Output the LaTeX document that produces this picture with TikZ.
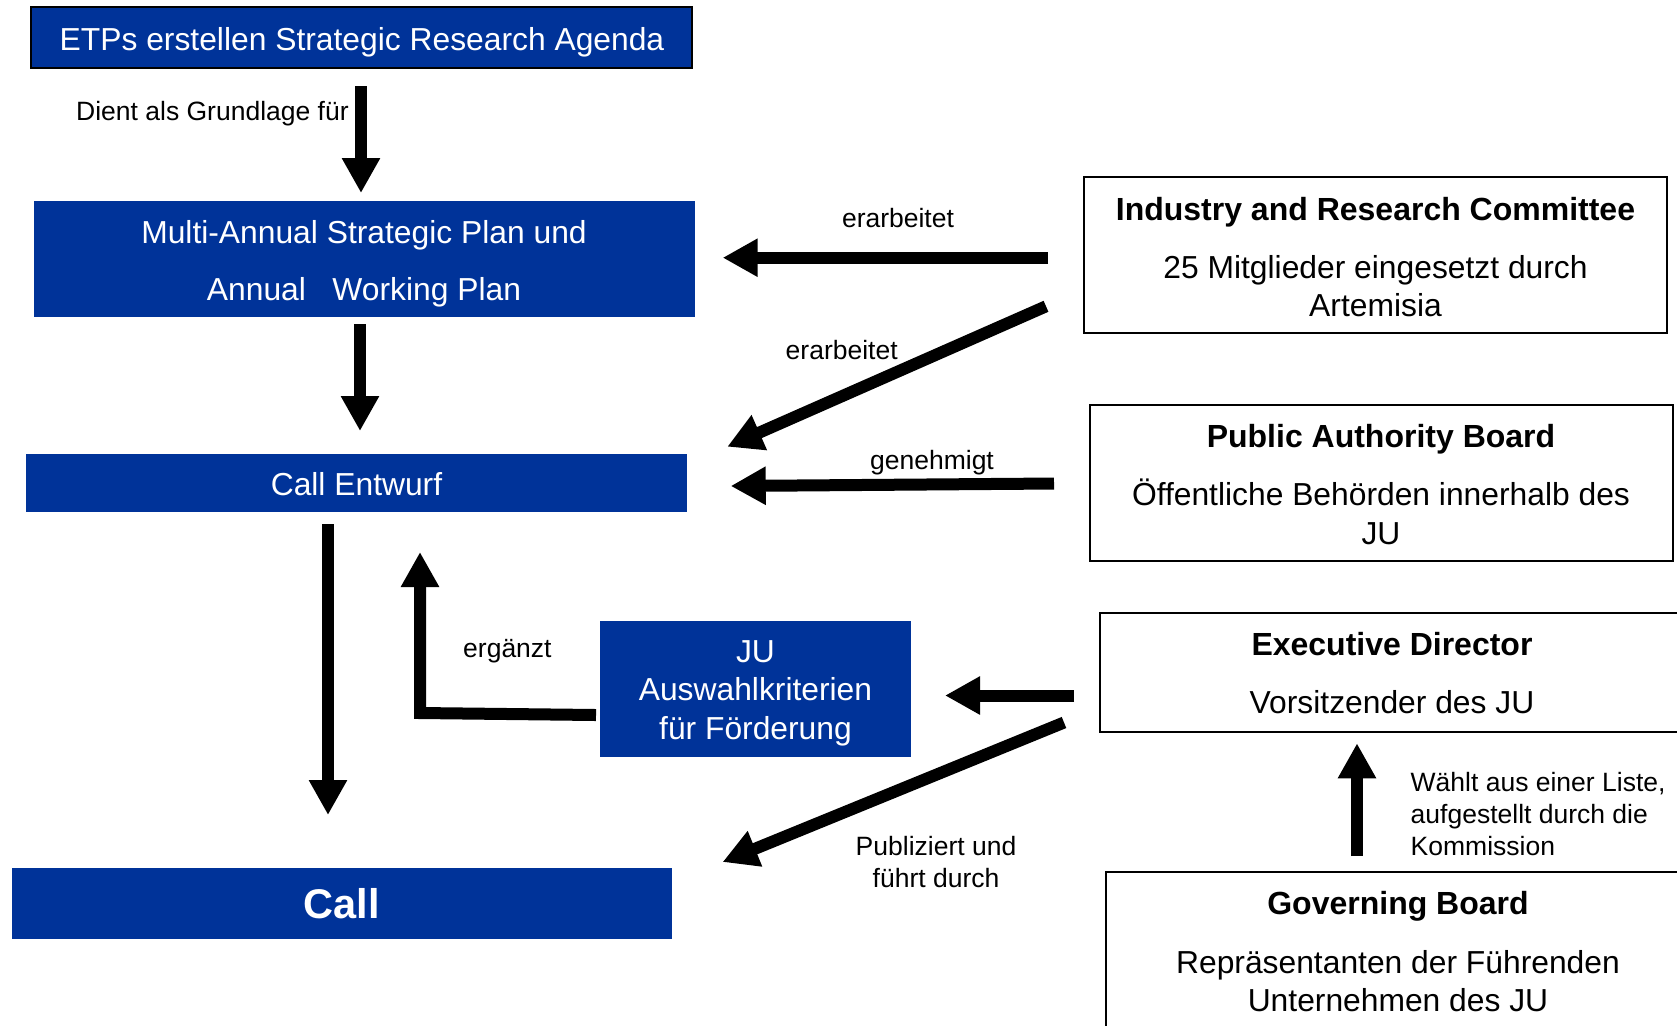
\documentclass[tikz,border=0pt]{standalone}
\usepackage{fontspec}
\setmainfont{Liberation Sans}
\usetikzlibrary{arrows.meta,fit}
\definecolor{juBlue}{RGB}{0,51,153}

\begin{document}
\begin{tikzpicture}[x=0.5pt,y=-0.5pt,
  bluebox/.style={fill=juBlue,inner sep=0pt},
  whitebox/.style={draw=black,line width=0.7pt,fill=white,inner sep=0pt},
  bigtext/.style={inner sep=0pt,anchor=base,font=\fontsize{15.9}{19}\selectfont},
  whitetext/.style={bigtext,text=white},
  titletext/.style={bigtext,font=\fontsize{16}{19}\selectfont\bfseries},
  smalltext/.style={inner sep=0pt,anchor=base,font=\fontsize{13.25}{15}\selectfont},
  arr/.style={line width=6pt,line join=miter,-{Triangle[length=17.5pt,width=18pt]}}]

\useasboundingbox (0,0) rectangle (1677,1025);
\clip (0,0) rectangle (1677,1025);
\fill[white] (0,0) rectangle (1677,1025);

% ---- blue process boxes (left column) ----
\node[bluebox,draw=black,line width=0.6pt,fit={(31,7) (692,68)}] (etps) {};
\node[whitetext] (etpsT) at (362,50) {ETPs erstellen Strategic Research Agenda};

\node[bluebox,fit={(34,201) (695,317)}] (masp) {};
\node[whitetext] (maspT1) at (364,243.3) {Multi-Annual Strategic Plan und};
\node[whitetext] (maspT2) at (364,300) {Annual~~~Working Plan};

\node[bluebox,fit={(26,454) (687,512)}] (entwurf) {};
\node[whitetext] (entwurfT) at (356.5,495) {Call Entwurf};

\node[bluebox,fit={(600,621) (911,757)}] (ju) {};
\node[whitetext] (juT1) at (755.5,662.3) {JU};
\node[whitetext] (juT2) at (755.5,700.8) {Auswahlkriterien};
\node[whitetext] (juT3) at (755.5,739.3) {für Förderung};

\node[bluebox,fit={(12,868) (672,939)}] (call) {};
\node[inner sep=0pt,anchor=base,text=white,font=\fontsize{20.75}{24}\selectfont\bfseries] (callT) at (342,918.3) {Call};

% ---- bodies of the JU (right column) ----
\node[whitebox,fit={(1084,177) (1667,333)}] (irc) {};
\node[titletext] (ircT) at (1375.5,220) {Industry and Research Committee};
\node[bigtext] (ircB1) at (1375.5,278) {25 Mitglieder eingesetzt durch};
\node[bigtext] (ircB2) at (1375.5,316.5) {Artemisia};

\node[whitebox,fit={(1090,405) (1673,561)}] (pab) {};
\node[titletext] (pabT) at (1381,447.3) {Public Authority Board};
\node[bigtext] (pabB1) at (1381,505.5) {Öffentliche Behörden innerhalb des};
\node[bigtext] (pabB2) at (1381,544) {JU};

\node[whitebox,fit={(1100,613) (1684,732)}] (ed) {};
\node[titletext] (edT) at (1392,655.5) {Executive Director};
\node[bigtext] (edB) at (1392,713.5) {Vorsitzender des JU};

\node[whitebox,fit={(1106,872) (1690,1028)}] (gb) {};
\node[titletext] (gbT) at (1398,914.3) {Governing Board};
\node[bigtext] (gbB1) at (1398,973.5) {Repräsentanten der Führenden};
\node[bigtext] (gbB2) at (1398,1011) {Unternehmen des JU};

% ---- arrow end points beside the boxes ----
\coordinate (etps-out)    at (361,86);
\coordinate (masp-in)     at (361,193);
\coordinate (masp-out)    at (360,324);
\coordinate (entwurf-in)  at (360,431);
\coordinate (entwurf-out) at (328,524);
\coordinate (call-in)     at (328,815);
\coordinate (ju-out)      at (596,715);
\coordinate (ju-bend)     at (420,713);
\coordinate (entwurf-in2) at (420,552);
\coordinate (irc-out1)    at (1048,257.7);
\coordinate (masp-in2)    at (722.7,257.7);
\coordinate (irc-out2)    at (1046,306.3);
\coordinate (entwurf-in3) at (727.3,446.7);
\coordinate (pab-out)     at (1054,483.5);
\coordinate (entwurf-in4) at (730.7,486);
\coordinate (ed-out1)     at (1074,695.5);
\coordinate (ju-in)       at (945,695.5);
\coordinate (ed-out2)     at (1064,722.5);
\coordinate (call-in2)    at (722.6,862);
\coordinate (gb-out)      at (1357,856);
\coordinate (ed-in)       at (1357,743.3);

% ---- connectors ----
\draw[arr] (etps-out) -- (masp-in);
\draw[arr] (masp-out) -- (entwurf-in);
\draw[arr] (entwurf-out) -- (call-in);
\draw[arr] (ju-out) -- (ju-bend) -- (entwurf-in2);
\draw[arr] (irc-out1) -- (masp-in2);
\draw[arr] (irc-out2) -- (entwurf-in3);
\draw[arr] (pab-out) -- (entwurf-in4);
\draw[arr] (ed-out1) -- (ju-in);
\draw[arr] (ed-out2) -- (call-in2);
\draw[arr] (gb-out) -- (ed-in);

% ---- connector labels ----
\node[smalltext,anchor=base west] (lblGrund) at (75.8,120.7) {Dient als Grundlage für};
\node[smalltext] (lblErarb1) at (898,227.8) {erarbeitet};
\node[smalltext] (lblErarb2) at (841.7,359.9) {erarbeitet};
\node[smalltext] (lblGenehm) at (932,469.5) {genehmigt};
\node[smalltext] (lblErg) at (507.4,657.3) {ergänzt};
\node[smalltext] (lblPub1) at (936,855) {Publiziert und};
\node[smalltext] (lblPub2) at (936,887) {führt durch};
\node[smalltext,anchor=base west] (lblWahl1) at (1410.3,791) {Wählt aus einer Liste,};
\node[smalltext,anchor=base west] (lblWahl2) at (1410.3,823) {aufgestellt durch die};
\node[smalltext,anchor=base west] (lblWahl3) at (1410.3,855) {Kommission};

\end{tikzpicture}
\end{document}
